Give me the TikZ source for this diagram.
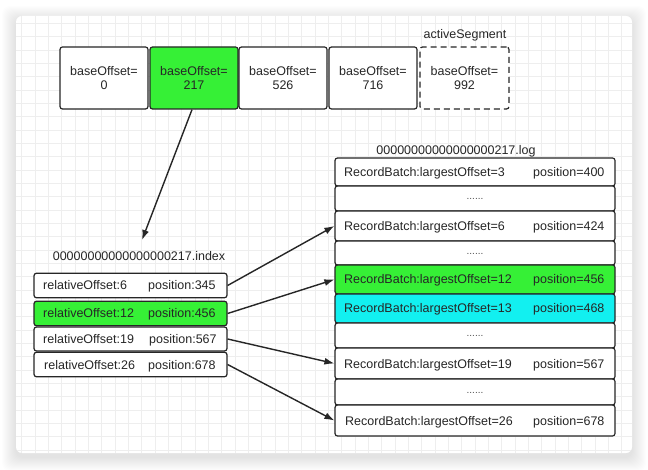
\documentclass[tikz,border=0pt]{standalone}
\usepackage{fontspec}
\setmainfont{Liberation Sans}
\usetikzlibrary{arrows.meta}
\definecolor{ink}{HTML}{262626}
\definecolor{segGreen}{HTML}{36F036}
\definecolor{segCyan}{HTML}{12F0F0}
\definecolor{gridc}{HTML}{EEEEEE}
\tikzset{
  txt/.style={font=\fontsize{12.5}{14.5}\selectfont, text=ink},
  segbox/.style={draw=ink, line width=1.2pt, rounded corners=2.5pt, fill=white,
     minimum width=88pt, minimum height=62pt, align=center, inner sep=0pt, txt},
  idxrow/.style={draw=ink, line width=1.2pt, rounded corners=2.5pt, fill=white,
     minimum width=193pt, minimum height=24.5pt, inner sep=0pt},
  logrow/.style={draw=ink, line width=1.2pt, rounded corners=2.5pt, fill=white,
     minimum width=280pt, inner sep=0pt},
  lbl/.style={txt, inner sep=0pt, anchor=base west},
  dots/.style={font=\fontsize{10}{12}\selectfont, text=ink!80, inner sep=0pt},
  conn/.style={draw=ink, line width=1.4pt, -{Latex[length=10pt,width=7pt]}},
}
\begin{document}
\begin{tikzpicture}[x=1pt,y=-1pt]
\useasboundingbox (0,0) rectangle (648,470);
% shadow
\foreach \i in {1,...,14}{
  \fill[black, opacity=0.009, rounded corners=8pt]
    (16-\i,16-\i+4) rectangle (632+\i,453+\i+4);
}
\fill[white, rounded corners=6pt] (16,16) rectangle (632,453);
\begin{scope}
  \clip[rounded corners=6pt] (16,16) rectangle (632,453);
  \foreach \k in {0,...,46}{
    \draw[gridc, line width=0.6pt] (21.7+13.333*\k,16) -- (21.7+13.333*\k,453);
  }
  \foreach \k in {0,...,33}{
    \draw[gridc, line width=0.6pt] (16,23.3+13.333*\k) -- (632,23.3+13.333*\k);
  }
\end{scope}

% top segments
\node[segbox] (s0) at (104,78) {baseOffset=\\0};
\node[segbox, fill=segGreen] (s1) at (194,78) {baseOffset=\\217};
\node[segbox] (s2) at (283,78) {baseOffset=\\526};
\node[segbox] (s3) at (373,78) {baseOffset=\\716};
\node[segbox, dashed, dash pattern=on 6pt off 4pt, minimum width=89pt] (s4) at (464.5,78) {baseOffset=\\992};
\node[txt] (act) at (465,35) {activeSegment};

% index file
\node[txt] (idxlbl) at (139,256) {00000000000000000217.index};
\coordinate (tip) at (142,240);
\draw[conn] (s1.south) ++(-2,0) coordinate (s1b) (s1b) -- (tip);

\node[idxrow] (i1) at (130.5,285.5) {};
\node[idxrow, fill=segGreen] (i2) at (130.5,313.5) {};
\node[idxrow, minimum height=24pt] (i3) at (130.5,339) {};
\node[idxrow] (i4) at (130.5,364.5) {};
\node[lbl] (i1a) at (43,290) {relativeOffset:6};
\node[lbl] (i1b) at (148,290) {position:345};
\node[lbl] (i2a) at (43,318) {relativeOffset:12};
\node[lbl] (i2b) at (148,318) {position:456};
\node[lbl] (i3a) at (43,343.5) {relativeOffset:19};
\node[lbl] (i3b) at (149,343.5) {position:567};
\node[lbl] (i4a) at (44,369) {relativeOffset:26};
\node[lbl] (i4b) at (148,369) {position:678};

% log file
\node[txt] (loglbl) at (456,151) {00000000000000000217.log};
\node[logrow, minimum height=28pt] (l1) at (475,172) {};
\node[logrow, minimum height=25pt] (l2) at (475,198.5) {};
\node[logrow, minimum height=30pt] (l3) at (475,226) {};
\node[logrow, minimum height=24pt] (l4) at (475,253) {};
\node[logrow, minimum height=29pt, fill=segGreen] (l5) at (475,279.5) {};
\node[logrow, minimum height=29pt, fill=segCyan] (l6) at (475,308.5) {};
\node[logrow, minimum height=25pt] (l7) at (475,335.5) {};
\node[logrow, minimum height=31pt] (l8) at (475,363.5) {};
\node[logrow, minimum height=26pt] (l9) at (475,392) {};
\node[logrow, minimum height=31pt] (l10) at (475,420.5) {};

\node[lbl] (l1a) at (344,176.5) {RecordBatch:largestOffset=3};
\node[lbl] (l1b) at (533,176.5) {position=400};
\node[dots] (l2d) at (475,199) {......};
\node[lbl] (l3a) at (344,230.5) {RecordBatch:largestOffset=6};
\node[lbl] (l3b) at (533,230.5) {position=424};
\node[dots] (l4d) at (475,253.5) {......};
\node[lbl] (l5a) at (344,284) {RecordBatch:largestOffset=12};
\node[lbl] (l5b) at (533,284) {position=456};
\node[lbl] (l6a) at (344,313) {RecordBatch:largestOffset=13};
\node[lbl] (l6b) at (533,313) {position=468};
\node[dots] (l7d) at (475,336) {......};
\node[lbl] (l8a) at (344,368) {RecordBatch:largestOffset=19};
\node[lbl] (l8b) at (533,368) {position=567};
\node[dots] (l9d) at (475,392.5) {......};
\node[lbl] (l10a) at (345,425) {RecordBatch:largestOffset=26};
\node[lbl] (l10b) at (533,425) {position=678};

% connectors
\draw[conn] (i1.east) -- (l3.west);
\draw[conn] (i2.east) -- (l5.west);
\draw[conn] (i3.east) -- (l8.west);
\draw[conn] (i4.east) -- (l10.west);
\end{tikzpicture}
\end{document}
